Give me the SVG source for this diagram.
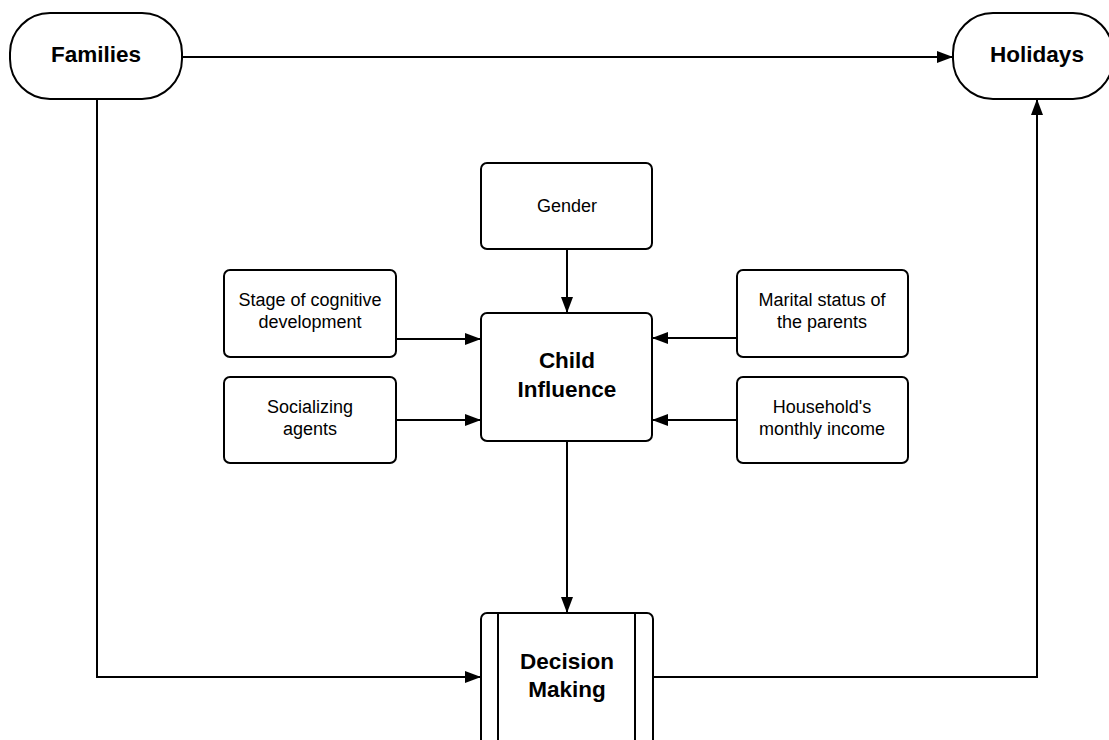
<svg xmlns="http://www.w3.org/2000/svg" width="1109" height="740" viewBox="0 0 1109 740">
<style>
.box{fill:#fff;stroke:#000;stroke-width:2}
.ln{fill:none;stroke:#000;stroke-width:2;marker-end:url(#ah)}
.t{font-family:"Liberation Sans",Arial,sans-serif;font-size:18px;fill:#000;text-anchor:middle}
.b{font-family:"Liberation Sans",Arial,sans-serif;font-size:22.5px;font-weight:bold;fill:#000;text-anchor:middle}
</style>
<defs>
<marker id="ah" viewBox="0 0 16 12" refX="16" refY="6" markerWidth="16" markerHeight="12" markerUnits="userSpaceOnUse" orient="auto">
<path d="M0,0 L16,6 L0,12 Z" fill="#000"/>
</marker>
</defs>
<rect width="1109" height="740" fill="#fff"/>
<g id="connectors">
<path class="ln" d="M182,57 L953,57"/>
<path class="ln" d="M97,99 L97,677 L481,677"/>
<path class="ln" d="M653,677 L1037,677 L1037,99"/>
<path class="ln" d="M567,249 L567,313"/>
<path class="ln" d="M567,441 L567,613"/>
<path class="ln" d="M396,339 L481,339"/>
<path class="ln" d="M396,420 L481,420"/>
<path class="ln" d="M737,338 L652,338"/>
<path class="ln" d="M737,420 L652,420"/>
</g>
<g id="families">
<rect class="box" x="10" y="13" width="172" height="86" rx="40" ry="40"/>
<text class="b" x="96" y="62">Families</text>
</g>
<g id="holidays">
<rect class="box" x="953" y="13" width="160" height="86" rx="40" ry="40"/>
<text class="b" x="1037" y="62">Holidays</text>
</g>
<g id="gender">
<rect class="box" x="481" y="163" width="171" height="86" rx="6" ry="6"/>
<text class="t" x="567" y="212">Gender</text>
</g>
<g id="child-influence">
<rect class="box" x="481" y="313" width="171" height="128" rx="6" ry="6"/>
<text class="b" x="567" y="368">Child</text>
<text class="b" x="567" y="397">Influence</text>
</g>
<g id="stage">
<rect class="box" x="224" y="270" width="172" height="87" rx="6" ry="6"/>
<text class="t" x="310" y="306">Stage of cognitive</text>
<text class="t" x="310" y="328">development</text>
</g>
<g id="socializing">
<rect class="box" x="224" y="377" width="172" height="86" rx="6" ry="6"/>
<text class="t" x="310" y="413">Socializing</text>
<text class="t" x="310" y="435">agents</text>
</g>
<g id="marital">
<rect class="box" x="737" y="270" width="171" height="87" rx="6" ry="6"/>
<text class="t" x="822" y="306">Marital status of</text>
<text class="t" x="822" y="328">the parents</text>
</g>
<g id="household">
<rect class="box" x="737" y="377" width="171" height="86" rx="6" ry="6"/>
<text class="t" x="822" y="413">Household's</text>
<text class="t" x="822" y="435">monthly income</text>
</g>
<g id="decision-making">
<rect class="box" x="481" y="613" width="172" height="140" rx="6" ry="6"/>
<line x1="498" y1="613" x2="498" y2="753" stroke="#000" stroke-width="2"/>
<line x1="635" y1="613" x2="635" y2="753" stroke="#000" stroke-width="2"/>
<text class="b" x="567" y="669">Decision</text>
<text class="b" x="567" y="697">Making</text>
</g>
</svg>
